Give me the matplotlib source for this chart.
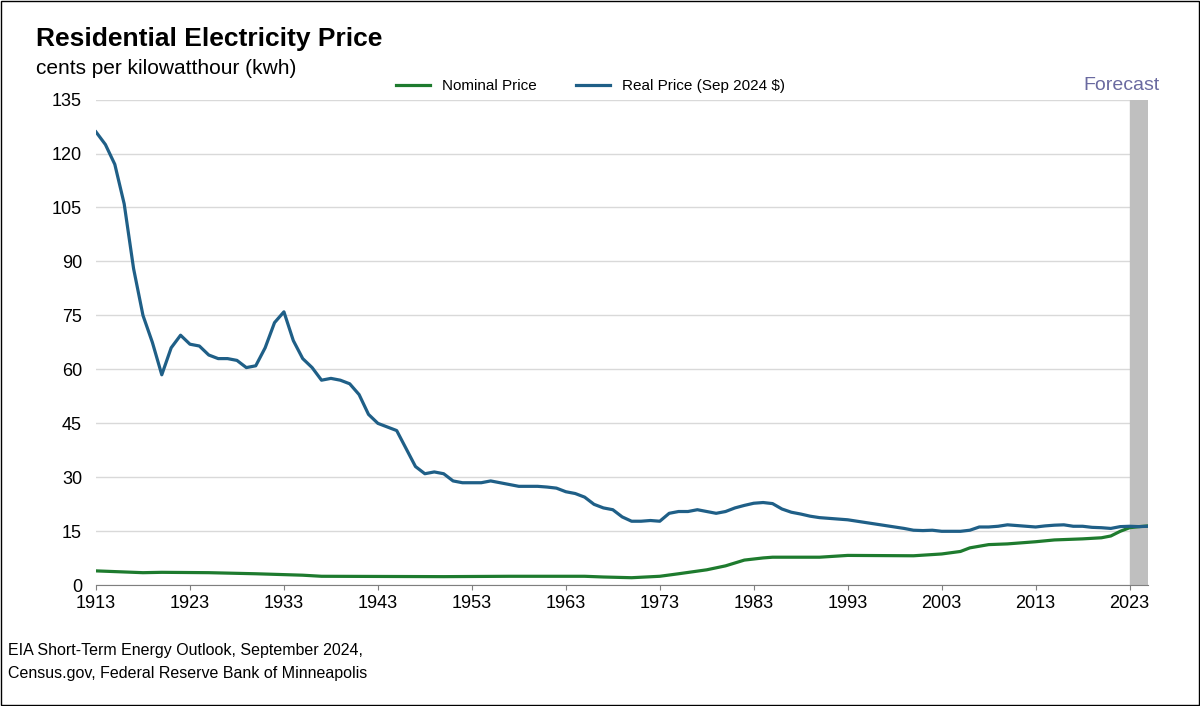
import numpy as np
import matplotlib
matplotlib.use('Agg')
import matplotlib.pyplot as plt
from matplotlib.patches import Rectangle

plt.rcParams['font.family'] = ['Liberation Sans', 'DejaVu Sans']

years = np.arange(1913, 2026)

# precio real (Sep 2024 $), centavos por kWh
real = [126, 122.5, 117, 106, 88, 75, 67.5, 58.5, 66, 69.5,
        67, 66.5, 64, 63, 63, 62.5, 60.5, 61, 66, 73,
        76, 68, 63, 60.5, 57, 57.5, 57, 56, 53, 47.5,
        45, 44, 43, 38, 33, 31, 31.5, 31, 29, 28.5,
        28.5, 28.5, 29, 28.5, 28, 27.5, 27.5, 27.5, 27.3, 27,
        26, 25.5, 24.5, 22.5, 21.5, 21, 19, 17.8, 17.8, 18,
        17.8, 20, 20.5, 20.5, 21, 20.5, 20, 20.5, 21.5, 22.2,
        22.8, 23, 22.7, 21.2, 20.3, 19.8, 19.2, 18.8, 18.6, 18.4,
        18.2, 17.8, 17.4, 17, 16.6, 16.2, 15.8, 15.3, 15.2, 15.3,
        15, 15, 15, 15.3, 16.2, 16.2, 16.4, 16.8, 16.6, 16.4,
        16.2, 16.5, 16.7, 16.8, 16.4, 16.4, 16.1, 16, 15.8, 16.3,
        16.4, 16.3, 16.4]

nom_pts = {1913: 4.0, 1916: 3.7, 1918: 3.5, 1920: 3.6, 1925: 3.5, 1930: 3.2,
           1935: 2.8, 1937: 2.5, 1950: 2.4, 1957: 2.5, 1965: 2.5, 1967: 2.3,
           1970: 2.1, 1973: 2.5, 1975: 3.2, 1978: 4.3, 1980: 5.4, 1982: 7.0,
           1984: 7.6, 1985: 7.8, 1990: 7.8, 1993: 8.3, 2000: 8.2, 2003: 8.7,
           2005: 9.4, 2006: 10.4, 2008: 11.3, 2010: 11.5, 2013: 12.1,
           2015: 12.6, 2018: 12.9, 2020: 13.2, 2021: 13.7, 2022: 15.0,
           2023: 16.0, 2024: 16.3, 2025: 16.5}
nominal = np.interp(years, list(nom_pts.keys()), list(nom_pts.values()))

fig = plt.figure(figsize=(12, 7.06), dpi=100)
fig.patches.append(Rectangle((0.001, 0.001), 0.998, 0.998, transform=fig.transFigure,
                             fill=False, edgecolor='black', linewidth=1))
ax = fig.add_axes([0.08, 0.171, 0.877, 0.688])

ax.axvspan(2023, 2025, color='#bfbfbf', zorder=1)
ax.plot(years, nominal, color='#1e7b2e', lw=2.3, label='Nominal Price', zorder=3)
ax.plot(years, real, color='#1f5f87', lw=2.3, label='Real Price (Sep 2024 $)', zorder=3)

ax.set_xlim(1913, 2025)
ax.set_ylim(0, 135)
ax.set_yticks(range(0, 136, 15))
ax.set_xticks(range(1913, 2024, 10))
ax.grid(axis='y', color='#d9d9d9', lw=1)
ax.set_axisbelow(True)
for s in ['top', 'right', 'left']:
    ax.spines[s].set_visible(False)
ax.spines['bottom'].set_color('#7f7f7f')
ax.tick_params(axis='y', length=0, labelsize=13, pad=10)
ax.tick_params(axis='x', labelsize=13, direction='out', color='#7f7f7f')

ax.legend(loc='lower center', bbox_to_anchor=(0.47, 0.985), ncol=2, frameon=False,
          fontsize=11, handlelength=2.2, columnspacing=2.6)
ax.text(2026.2, 136.5, 'Forecast', color='#6a6aa0', fontsize=14, ha='right', va='bottom')

fig.text(0.03, 0.935, 'Residential Electricity Price', fontsize=19, fontweight='bold')
fig.text(0.03, 0.895, 'cents per kilowatthour (kwh)', fontsize=15)
fig.text(0.007, 0.072, 'EIA Short-Term Energy Outlook, September 2024,', fontsize=11.5)
fig.text(0.007, 0.040, 'Census.gov, Federal Reserve Bank of Minneapolis', fontsize=11.5)

fig.savefig('out.png')
